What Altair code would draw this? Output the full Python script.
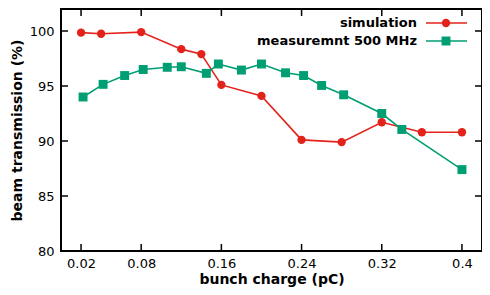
import altair as alt
import pandas as pd

# ---- data ----
sim_x = [0.02, 0.04, 0.08, 0.12, 0.14, 0.16, 0.20, 0.24, 0.28, 0.32, 0.36, 0.40]
sim_y = [99.85, 99.75, 99.9, 98.35, 97.9, 95.1, 94.1, 90.1, 89.9, 91.7, 90.8, 90.8]

meas_x = [0.022, 0.042, 0.0635, 0.082, 0.106, 0.12, 0.145, 0.157, 0.18, 0.20,
          0.224, 0.242, 0.26, 0.282, 0.32, 0.34, 0.40]
meas_y = [94.0, 95.15, 95.95, 96.5, 96.7, 96.75, 96.15, 97.0, 96.45, 97.0,
          96.2, 95.95, 95.05, 94.2, 92.5, 91.05, 87.4]

x_ticks = [0.02, 0.08, 0.16, 0.24, 0.32, 0.40]
y_ticks = [80, 85, 90, 95, 100]

legend_labels = ["simulation", "measuremnt 500 MHz"]
x_title = "bunch charge (pC)"
y_title = "beam transmission (%)"

RED = "#e3231b"
GREEN = "#009e73"
W, H = 421, 242
TICK = 7

xs = alt.Scale(domain=[0, 0.42], nice=False, zero=False)
ys = alt.Scale(domain=[80, 102], nice=False, zero=False)

df_sim = pd.DataFrame({"x": sim_x, "y": sim_y})
df_meas = pd.DataFrame({"x": meas_x, "y": meas_y})
df_xt = pd.DataFrame({"x": x_ticks})
df_yt = pd.DataFrame({"y": y_ticks})
one = pd.DataFrame({"a": [0]})

x_axis = alt.Axis(values=x_ticks, format=".2~f", ticks=False, domain=False,
                  grid=False, labelPadding=6, title=x_title, titlePadding=2,
                  labelFlush=False)
y_axis = alt.Axis(values=y_ticks, ticks=False, domain=False, grid=False,
                  labelPadding=7, title=y_title, titlePadding=5)

X = alt.X("x:Q", scale=xs, axis=x_axis)
Y = alt.Y("y:Q", scale=ys, axis=y_axis)

sim_line = alt.Chart(df_sim).mark_line(color=RED, strokeWidth=1.6).encode(x=X, y=Y)
sim_pts = alt.Chart(df_sim).mark_point(filled=True, shape="circle", size=70,
                                       color=RED, opacity=1).encode(x=X, y=Y)
meas_line = alt.Chart(df_meas).mark_line(color=GREEN, strokeWidth=1.6).encode(x=X, y=Y)
meas_pts = alt.Chart(df_meas).mark_point(filled=True, shape="square", size=80,
                                         color=GREEN, opacity=1).encode(x=X, y=Y)

# inward ticks on all four sides
tb = alt.Chart(df_xt).mark_rule(color="black", strokeWidth=1.5).encode(
    x=X, y=alt.value(H), y2=alt.value(H - TICK))
tt = alt.Chart(df_xt).mark_rule(color="black", strokeWidth=1.5).encode(
    x=X, y=alt.value(0), y2=alt.value(TICK))
tl = alt.Chart(df_yt).mark_rule(color="black", strokeWidth=1.5).encode(
    y=Y, x=alt.value(0), x2=alt.value(TICK))
tr = alt.Chart(df_yt).mark_rule(color="black", strokeWidth=1.5).encode(
    y=Y, x=alt.value(W), x2=alt.value(W - TICK))

# legend (label left, sample right)
LX, L1, L2, LM = 356, 365, 406, 385
R1, R2 = 14, 32
leg = []
for lbl, col, shape, sz, ry in [(legend_labels[0], RED, "circle", 70, R1),
                                (legend_labels[1], GREEN, "square", 80, R2)]:
    leg.append(alt.Chart(one).mark_text(text=lbl, align="right", baseline="middle",
                                        font="DejaVu Sans", fontSize=13,
                                        fontWeight="bold", color="black").encode(
        x=alt.value(LX), y=alt.value(ry)))
    leg.append(alt.Chart(one).mark_rule(color=col, strokeWidth=1.6).encode(
        x=alt.value(L1), x2=alt.value(L2), y=alt.value(ry)))
    leg.append(alt.Chart(one).mark_point(filled=True, shape=shape, size=sz,
                                         color=col, opacity=1).encode(
        x=alt.value(LM), y=alt.value(ry)))

chart = alt.layer(sim_line, meas_line, sim_pts, meas_pts, tb, tt, tl, tr, *leg).properties(
    width=W, height=H,
    autosize=alt.AutoSizeParams(type="none"),
    padding={"left": 53, "top": 1, "right": 0, "bottom": 40},
).configure_view(
    stroke="black", strokeWidth=2
).configure_axis(
    labelFont="DejaVu Sans", labelFontSize=13, labelColor="black",
    titleFont="DejaVu Sans", titleFontSize=14, titleFontWeight="bold",
    titleColor="black",
)

chart.save("out.html", embed_options={"renderer": "svg", "actions": False})
